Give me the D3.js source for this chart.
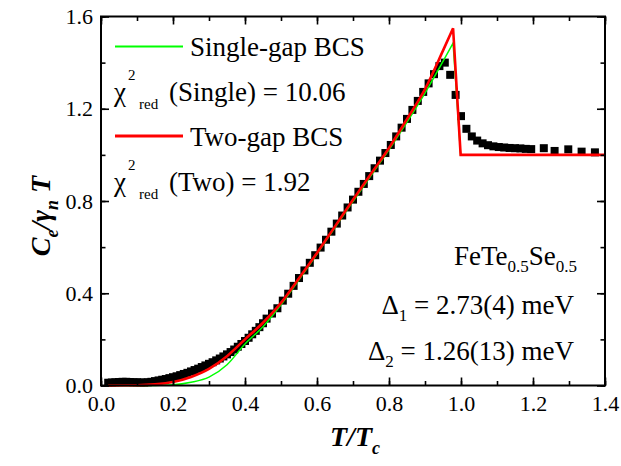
<!DOCTYPE html>
<html><head><meta charset="utf-8">
<script src="https://cdnjs.cloudflare.com/ajax/libs/d3/7.8.5/d3.min.js"></script>
</head>
<body style="margin:0"><svg id="c" width="621" height="466" font-family="Tinos"></svg>
<script>
// measured data (T/Tc, Ce/gamma_n T)
const tData = [0.02,0.03,0.04,0.05,0.06,0.07,0.08,0.09,0.10,0.11,0.12,0.13,0.14,0.15,0.16,0.17,0.18,0.19,0.20,0.21,0.22,0.23,0.24,0.25,0.26,0.27,0.28,0.29,0.30,0.31,0.32,0.33,0.34,0.35,0.36,0.37,0.38,0.39,0.40,0.41,0.42,0.43,0.44,0.45,
  0.46,0.475,0.49,0.505,0.52,0.535,0.55,0.565,0.58,0.595,0.61,0.625,0.64,0.655,0.67,0.685,0.70,0.715,0.73,0.745,0.76,0.775,0.79,0.805,0.82,0.835,0.85,0.865,0.88,0.895,0.91,0.925,0.94,0.955,
  0.97,0.985,1.0,1.015,1.03,1.045,1.06,1.075,1.09,1.105,1.12,1.135,1.15,1.165,1.18,1.195,1.23,1.26,1.298,1.335,1.372];
const cData = [0.012,0.013,0.014,0.015,0.016,0.016,0.015,0.014,0.014,0.013,0.013,0.014,0.016,0.019,0.022,0.025,0.028,0.032,0.036,0.040,0.045,0.050,0.055,0.061,0.067,0.073,0.080,0.087,0.094,0.101,0.109,0.117,0.126,0.135,0.145,0.156,0.168,0.180,0.193,0.207,0.222,0.237,0.253,0.270,
  0.290,0.312,0.335,0.368,0.398,0.432,0.466,0.499,0.532,0.565,0.598,0.632,0.667,0.702,0.737,0.772,0.806,0.840,0.874,0.908,0.942,0.975,1.008,1.043,1.080,1.118,1.156,1.195,1.234,1.273,1.310,1.350,1.385,1.400,
  1.347,1.260,1.168,1.113,1.080,1.062,1.050,1.042,1.037,1.034,1.032,1.030,1.029,1.028,1.026,1.025,1.029,1.017,1.024,1.014,1.011];
// fits
const tFit = [0.02,0.10,0.15,0.20,0.25,0.30,0.35,0.40,0.45,0.50,0.55,0.60,0.65,0.70,0.75,0.80,0.85,0.90,0.95,0.978,0.999,1.40];
const twoGap = [0,0.001,0.005,0.015,0.037,0.072,0.127,0.200,0.272,0.358,0.465,0.575,0.690,0.805,0.918,1.030,1.155,1.285,1.452,1.549,1.0,1.0];
const singleGap = [0,0,0.0005,0.003,0.014,0.036,0.090,0.180,0.255,0.350,0.458,0.570,0.685,0.798,0.910,1.022,1.142,1.268,1.405,1.485,1.0,1.0];
const xTicks = [0.0,0.2,0.4,0.6,0.8,1.0,1.2,1.4];
const yTicks = [0.0,0.4,0.8,1.2,1.6];

const FONT = '"Tinos"';
const svg = d3.select("#c");
const L=101, R=605, T=16.5, B=385.5;
const x = d3.scaleLinear().domain([0,1.4]).range([L,R]);
const y = d3.scaleLinear().domain([0,1.6]).range([B,T]);

// data squares
const s=8;
svg.append("g").selectAll("rect").data(tData.map((t,i)=>[t,cData[i]])).join("rect")
  .attr("x",d=>x(d[0])-s/2).attr("y",d=>y(d[1])-s/2).attr("width",s).attr("height",s).attr("fill","#000");

// fit curves: smooth rise up to the peak, straight drop and normal-state line after it
const smooth = d3.line().x(d=>x(d[0])).y(d=>y(d[1])).curve(d3.curveMonotoneX);
const straight = d3.line().x(d=>x(d[0])).y(d=>y(d[1]));
function fitPath(vals, color, w){
  const pts = tFit.map((t,i)=>[t,vals[i]]);
  const k = vals.indexOf(d3.max(vals));
  const p = smooth(pts.slice(0,k+1)) + straight(pts.slice(k)).replace(/^M/,"L");
  svg.append("path").attr("d",p).attr("fill","none").attr("stroke",color).attr("stroke-width",w).attr("stroke-linejoin","miter");
}
fitPath(singleGap,"#00ff00",1.5);
fitPath(twoGap,"#ff0000",2.6);

// axes (ticks inward)
const fmt = d3.format(".1f");
const minorX = d3.range(0,1.41,0.1), minorY = d3.range(0,1.61,0.2);
function tickAxis(g, axis){
  g.call(axis);
  g.attr("font-family",null).attr("font-size",22);
  g.select(".domain").remove();
  g.selectAll("line").attr("stroke","#000").attr("stroke-width",1.6);
  g.selectAll("text").attr("fill","#000").attr("font-size",22);
}
svg.append("g").attr("transform",`translate(0,${B})`).call(g=>tickAxis(g,d3.axisBottom(x).tickValues(minorX).tickSize(-4.5).tickFormat("")));
svg.append("g").attr("transform",`translate(0,${B})`).call(g=>tickAxis(g,d3.axisBottom(x).tickValues(xTicks).tickSize(-8).tickPadding(10).tickFormat(fmt)));
svg.append("g").attr("transform",`translate(0,${T})`).call(g=>tickAxis(g,d3.axisTop(x).tickValues(minorX).tickSize(-4.5).tickFormat("")));
svg.append("g").attr("transform",`translate(0,${T})`).call(g=>tickAxis(g,d3.axisTop(x).tickValues(xTicks).tickSize(-8).tickFormat("")));
svg.append("g").attr("transform",`translate(${L},0)`).call(g=>tickAxis(g,d3.axisLeft(y).tickValues(minorY).tickSize(-4.5).tickFormat("")));
svg.append("g").attr("transform",`translate(${L},0)`).call(g=>tickAxis(g,d3.axisLeft(y).tickValues(yTicks).tickSize(-8).tickPadding(8).tickFormat(fmt)));
svg.append("g").attr("transform",`translate(${R},0)`).call(g=>tickAxis(g,d3.axisRight(y).tickValues(minorY).tickSize(-4.5).tickFormat("")));
svg.append("g").attr("transform",`translate(${R},0)`).call(g=>tickAxis(g,d3.axisRight(y).tickValues(yTicks).tickSize(-8).tickFormat("")));
svg.selectAll(".tick text").filter(function(){return this.textContent==="";}).remove();
svg.append("rect").attr("x",L).attr("y",T).attr("width",R-L).attr("height",B-T).attr("fill","none").attr("stroke","#000").attr("stroke-width",2);

function txt(xp, yp, size, str){
  return svg.append("text").attr("x",xp).attr("y",yp).attr("font-size",size).attr("fill","#000").text(str);
}
// legend
svg.append("line").attr("x1",115).attr("x2",183).attr("y1",46.5).attr("y2",46.5).attr("stroke","#00ff00").attr("stroke-width",1.8);
txt(190,56,27,"Single-gap BCS");
svg.append("line").attr("x1",115).attr("x2",183).attr("y1",136).attr("y2",136).attr("stroke","#ff0000").attr("stroke-width",3);
txt(190,146,27,"Two-gap BCS");
function chi(yb, label){
  txt(114,yb,27,"\u03c7");
  txt(128,yb-21,15,"2");
  txt(139,yb+8,15,"red");
  txt(169,yb,27,label);
}
chi(101,"(Single) = 10.06");
chi(191,"(Two) = 1.92");

// annotations (right aligned)
function sub(xr, yb, parts){
  const t = svg.append("text").attr("x",xr).attr("y",yb).attr("text-anchor","end").attr("font-size",27).attr("fill","#000");
  let down=false;
  parts.forEach(([s,isSub])=>{
    const sp = t.append("tspan").text(s);
    if(isSub && !down){ sp.attr("font-size",17).attr("dy",7); down=true; }
    else if(isSub){ sp.attr("font-size",17); }
    else if(down){ sp.attr("dy",-7); down=false; }
  });
}
sub(577,265,[["FeTe",0],["0.5",1],["Se",0],["0.5",1]]);
sub(574,314,[["\u0394",0],["1",1],[" = 2.73(4) meV",0]]);
sub(574,360,[["\u0394",0],["2",1],[" = 1.26(13) meV",0]]);

// axis titles
const xt = svg.append("text").attr("x",355).attr("y",446).attr("text-anchor","middle").attr("font-size",28).attr("font-style","italic").attr("font-weight","bold");
xt.append("tspan").text("T/T");
xt.append("tspan").attr("font-size",18).attr("dy",8).text("c");
const yt = svg.append("text").attr("transform","translate(50,216) rotate(-90)").attr("text-anchor","middle").attr("font-size",28).attr("font-style","italic").attr("font-weight","bold");
yt.append("tspan").text("C");
yt.append("tspan").attr("font-size",18).attr("dy",8).text("e");
yt.append("tspan").attr("dy",-8).text("/\u03b3");
yt.append("tspan").attr("font-size",18).attr("dy",8).text("n");
yt.append("tspan").attr("dy",-8).text(" T");

svg.selectAll("text").style("font-family",FONT);
</script></body></html>
